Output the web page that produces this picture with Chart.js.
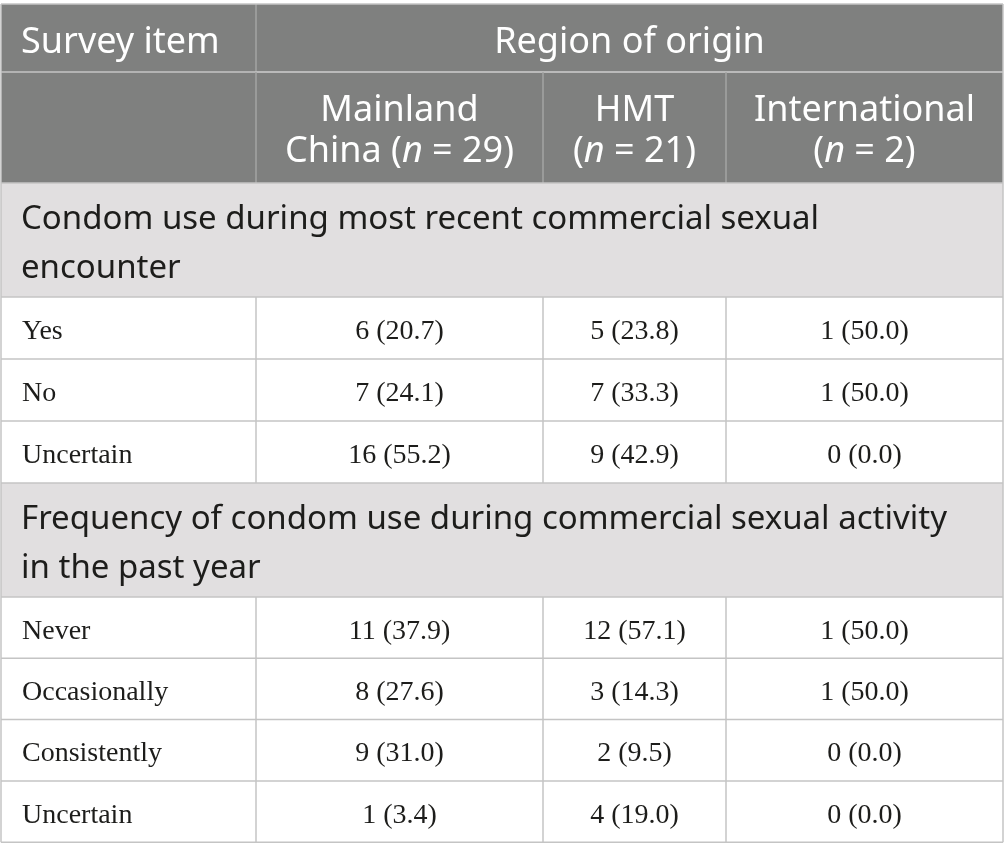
<!DOCTYPE html>
<html>
<head>
<meta charset="utf-8">
<script src="https://cdn.jsdelivr.net/npm/chart.js@4"></script>
<style>
    html, body { margin: 0; padding: 0; background: #fff; }
    #wrap { width: 1004px; height: 861px; position: relative; }
</style>
</head>
<body>
<div id="wrap"><canvas id="tableChart"></canvas></div>
<script>
// Table content
const regionTitle = 'Region of origin';
const itemTitle = 'Survey item';
const regionLine1 = ['Mainland', 'HMT', 'International'];
const regionLine2 = ['China (', '(', '('];
const regionN = [29, 21, 2];

const section1 = ['Condom use during most recent commercial sexual', 'encounter'];
const items1 = ['Yes', 'No', 'Uncertain'];
const mainlandCount1 = [6, 7, 16];
const mainlandPct1 = [20.7, 24.1, 55.2];
const hmtCount1 = [5, 7, 9];
const hmtPct1 = [23.8, 33.3, 42.9];
const intlCount1 = [1, 1, 0];
const intlPct1 = [50.0, 50.0, 0.0];

const section2 = ['Frequency of condom use during commercial sexual activity', 'in the past year'];
const items2 = ['Never', 'Occasionally', 'Consistently', 'Uncertain'];
const mainlandCount2 = [11, 8, 9, 1];
const mainlandPct2 = [37.9, 27.6, 31.0, 3.4];
const hmtCount2 = [12, 3, 2, 4];
const hmtPct2 = [57.1, 14.3, 9.5, 19.0];
const intlCount2 = [1, 1, 0, 0];
const intlPct2 = [50.0, 50.0, 0.0, 0.0];

// Layout (scale units == canvas px)
const colEdges = [1, 256, 543, 726, 1003];
const tableTop = 4;
const headRow1 = 68;
const headRow2 = 111;
const sectionRow = 114;
const bodyRow1 = 62;
const bodyRow2 = 61.3;

const SANS = '"Noto Sans", "Open Sans", sans-serif';
const SERIF = '"Liberation Serif", "DejaVu Serif", serif';
const headBg = '#7f807f';
const headLine = '#a3a4a3';
const sectionBg = '#e1dfe0';
const gridLine = '#c4c4c4';
const headSize = 36;
const sectionSize = 33;
const bodySize = 28;

function cellText(count, pct) {
    return count + ' (' + pct.toFixed(1) + ')';
}

function buildRows() {
    const rows = [];
    let y = tableTop;
    rows.push({ kind: 'head1', top: y, bottom: y + headRow1 }); y += headRow1;
    rows.push({ kind: 'head2', top: y, bottom: y + headRow2 }); y += headRow2;

    rows.push({ kind: 'section', lines: section1, top: y, bottom: y + sectionRow }); y += sectionRow;
    items1.forEach((label, i) => {
        rows.push({
            kind: 'body', label: label, top: y, bottom: y + bodyRow1,
            cells: [cellText(mainlandCount1[i], mainlandPct1[i]), cellText(hmtCount1[i], hmtPct1[i]), cellText(intlCount1[i], intlPct1[i])]
        });
        y += bodyRow1;
    });

    rows.push({ kind: 'section', lines: section2, top: y, bottom: y + sectionRow }); y += sectionRow;
    items2.forEach((label, i) => {
        rows.push({
            kind: 'body', label: label, top: y, bottom: y + bodyRow2,
            cells: [cellText(mainlandCount2[i], mainlandPct2[i]), cellText(hmtCount2[i], hmtPct2[i]), cellText(intlCount2[i], intlPct2[i])]
        });
        y += bodyRow2;
    });
    return rows;
}

// draw a line of mixed normal/italic runs
function drawRuns(ctx, runs, cx, baseline, size) {
    let total = 0;
    runs.forEach(r => {
        ctx.font = (r.italic ? 'italic ' : '') + size + 'px ' + SANS;
        r.w = ctx.measureText(r.text).width;
        total += r.w;
    });
    let x = cx - total / 2;
    ctx.textAlign = 'left';
    runs.forEach(r => {
        ctx.font = (r.italic ? 'italic ' : '') + size + 'px ' + SANS;
        ctx.fillText(r.text, x, baseline);
        x += r.w;
    });
}

const tablePlugin = {
    id: 'tablePlugin',
    afterDraw(chart) {
        const ctx = chart.ctx;
        const sx = chart.scales.x;
        const sy = chart.scales.y;
        const X = v => sx.getPixelForValue(v);
        const Y = v => sy.getPixelForValue(v);
        const rows = chart.data.datasets[0].rows;
        const left = X(colEdges[0]);
        const right = X(colEdges[colEdges.length - 1]);

        ctx.save();
        ctx.textBaseline = 'alphabetic';

        function hLine(y, x0, x1, color) {
            ctx.strokeStyle = color;
            ctx.lineWidth = 1.5;
            ctx.beginPath();
            ctx.moveTo(x0, y);
            ctx.lineTo(x1, y);
            ctx.stroke();
        }
        function vLine(x, y0, y1, color) {
            ctx.strokeStyle = color;
            ctx.lineWidth = 1.5;
            ctx.beginPath();
            ctx.moveTo(x, y0);
            ctx.lineTo(x, y1);
            ctx.stroke();
        }

        rows.forEach(row => {
            const top = Y(row.top);
            const bottom = Y(row.bottom);
            const h = bottom - top;

            if (row.kind === 'head1') {
                ctx.fillStyle = headBg;
                ctx.fillRect(left, top, right - left, h);
                ctx.fillStyle = '#ffffff';
                ctx.font = headSize + 'px ' + SANS;
                ctx.textAlign = 'left';
                ctx.fillText(itemTitle, left + 20, top + 49);
                ctx.textAlign = 'center';
                ctx.fillText(regionTitle, (X(colEdges[1]) + right) / 2, top + 49);
            } else if (row.kind === 'head2') {
                ctx.fillStyle = headBg;
                ctx.fillRect(left, top, right - left, h);
                ctx.fillStyle = '#ffffff';
                for (let c = 0; c < 3; c++) {
                    const cx = (X(colEdges[c + 1]) + X(colEdges[c + 2])) / 2;
                    ctx.font = headSize + 'px ' + SANS;
                    ctx.textAlign = 'center';
                    ctx.fillText(regionLine1[c], cx, top + 49);
                    drawRuns(ctx, [
                        { text: regionLine2[c] },
                        { text: 'n', italic: true },
                        { text: ' = ' + regionN[c] + ')' }
                    ], cx, top + 90, headSize);
                }
            } else if (row.kind === 'section') {
                ctx.fillStyle = sectionBg;
                ctx.fillRect(left, top, right - left, h);
                ctx.fillStyle = '#1d1d1b';
                ctx.font = sectionSize + 'px ' + SANS;
                ctx.textAlign = 'left';
                row.lines.forEach((line, i) => {
                    ctx.fillText(line, left + 20, top + 46 + i * 49);
                });
            } else {
                ctx.fillStyle = '#ffffff';
                ctx.fillRect(left, top, right - left, h);
                ctx.fillStyle = '#1d1d1b';
                ctx.font = bodySize + 'px ' + SERIF;
                const base = top + h / 2 + 11;
                ctx.textAlign = 'left';
                ctx.fillText(row.label, left + 21, base);
                ctx.textAlign = 'center';
                row.cells.forEach((txt, c) => {
                    const cx = (X(colEdges[c + 1]) + X(colEdges[c + 2])) / 2;
                    ctx.fillText(txt, cx, base);
                });
            }
        });

        // grid lines
        rows.forEach(row => {
            const top = Y(row.top);
            const bottom = Y(row.bottom);
            if (row.kind === 'head1') {
                vLine(X(colEdges[1]), top, bottom, headLine);
                hLine(bottom, X(colEdges[1]), right, headLine);
            } else if (row.kind === 'head2') {
                for (let c = 1; c < 4; c++) vLine(X(colEdges[c]), top, bottom, headLine);
            } else if (row.kind === 'body') {
                for (let c = 1; c < 4; c++) vLine(X(colEdges[c]), top, bottom, gridLine);
            }
            hLine(bottom, left, right, gridLine);
        });
        const last = rows[rows.length - 1];
        vLine(left, Y(tableTop), Y(last.bottom), gridLine);
        vLine(right, Y(tableTop), Y(last.bottom), gridLine);
        hLine(Y(tableTop), left, right, gridLine);

        ctx.restore();
    }
};

window.onload = function() {
    try {
        const rows = buildRows();
        const canvas = document.getElementById('tableChart');
        new Chart(canvas.getContext('2d'), {
            type: 'scatter',
            data: { datasets: [{ data: [], rows: rows }] },
            options: {
                responsive: true,
                maintainAspectRatio: false,
                animation: false,
                events: [],
                layout: { padding: 0 },
                plugins: { legend: { display: false }, tooltip: { enabled: false } },
                scales: {
                    x: { type: 'linear', min: 0, max: 1004, display: false },
                    y: { type: 'linear', min: 0, max: 861, reverse: true, display: false }
                }
            },
            plugins: [tablePlugin]
        });
    } catch (error) {
        console.error('Error initializing table chart:', error);
    }
};
</script>
</body>
</html>
